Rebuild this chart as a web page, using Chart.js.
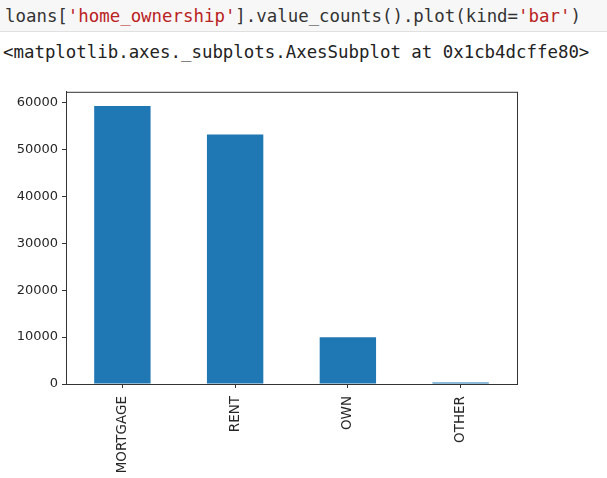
<!DOCTYPE html>
<html lang="en">
<head>
    <meta charset="UTF-8">
    <title>home_ownership value counts</title>
    <script src="https://cdn.jsdelivr.net/npm/chart.js"></script>
    <style>
        body {
            margin: 0;
            width: 607px;
            height: 478px;
            background: #ffffff;
            position: relative;
            overflow: hidden;
            font-family: "DejaVu Sans Mono", monospace;
        }
        .code-cell {
            position: absolute;
            left: 0;
            top: 0;
            width: 607px;
            height: 31px;
            background: #f7f7f7;
            border-bottom: 1px solid #e0e0e0;
        }
        .code-line {
            position: absolute;
            left: 5px;
            top: 6px;
            font-size: 17.4px;
            color: #333333;
            white-space: pre;
        }
        .str {
            color: #ba2121;
        }
        .out-line {
            position: absolute;
            left: 3px;
            top: 42px;
            font-size: 17.4px;
            color: #222222;
            white-space: pre;
        }
        .chart-box {
            position: absolute;
            left: 0;
            top: 80px;
            width: 607px;
            height: 398px;
        }
    </style>
</head>
<body>
<div class="code-cell">
    <div class="code-line">loans[<span class="str">'home_ownership'</span>].value_counts().plot(kind=<span class="str">'bar'</span>)</div>
</div>
<div class="out-line">&lt;matplotlib.axes._subplots.AxesSubplot at 0x1cb4dcffe80&gt;</div>

<div class="chart-box">
    <canvas id="ownershipChart" width="607" height="398"></canvas>
</div>

<script>
    const categories = ['MORTGAGE', 'RENT', 'OWN', 'OTHER'];
    const counts = [59250, 53220, 9950, 300];
    const yTicks = [0, 10000, 20000, 30000, 40000, 50000, 60000];

    // draws the full box around the axes like matplotlib does
    const frameBox = {
        id: 'frameBox',
        afterDraw(chart) {
            const { ctx, chartArea } = chart;
            ctx.save();
            ctx.strokeStyle = '#333333';
            ctx.lineWidth = 1;
            ctx.strokeRect(chartArea.left + 0.5, chartArea.top + 0.5,
                chartArea.right - chartArea.left, chartArea.bottom - chartArea.top);
            ctx.restore();
        }
    };

    const ctx = document.getElementById('ownershipChart').getContext('2d');
    new Chart(ctx, {
        type: 'bar',
        data: {
            labels: categories,
            datasets: [{
                data: counts,
                backgroundColor: '#1f77b4',
                borderWidth: 0,
                categoryPercentage: 1.0,
                barPercentage: 0.5
            }]
        },
        options: {
            responsive: false,
            animation: false,
            layout: {
                padding: { top: 10, right: 90, bottom: 0, left: 0 }
            },
            plugins: {
                legend: { display: false },
                tooltip: { enabled: false }
            },
            scales: {
                x: {
                    grid: {
                        offset: false,
                        drawOnChartArea: false,
                        drawTicks: true,
                        tickLength: 4,
                        color: '#333333'
                    },
                    border: { color: '#333333' },
                    ticks: {
                        minRotation: 90,
                        maxRotation: 90,
                        color: '#262626',
                        padding: 8,
                        font: { family: 'DejaVu Sans', size: 13.5 }
                    },
                    afterFit(scale) {
                        scale.height = 94;
                    }
                },
                y: {
                    min: 0,
                    max: 62300,
                    afterBuildTicks(scale) {
                        scale.ticks = yTicks.map(v => ({ value: v }));
                    },
                    grid: {
                        drawOnChartArea: false,
                        drawTicks: true,
                        tickLength: 4,
                        color: '#333333'
                    },
                    border: { color: '#333333' },
                    ticks: {
                        color: '#262626',
                        padding: 4,
                        font: { family: 'DejaVu Sans', size: 13 },
                        callback: v => String(v)
                    },
                    afterFit(scale) {
                        scale.width = 66;
                    }
                }
            }
        },
        plugins: [frameBox]
    });
</script>
</body>
</html>
